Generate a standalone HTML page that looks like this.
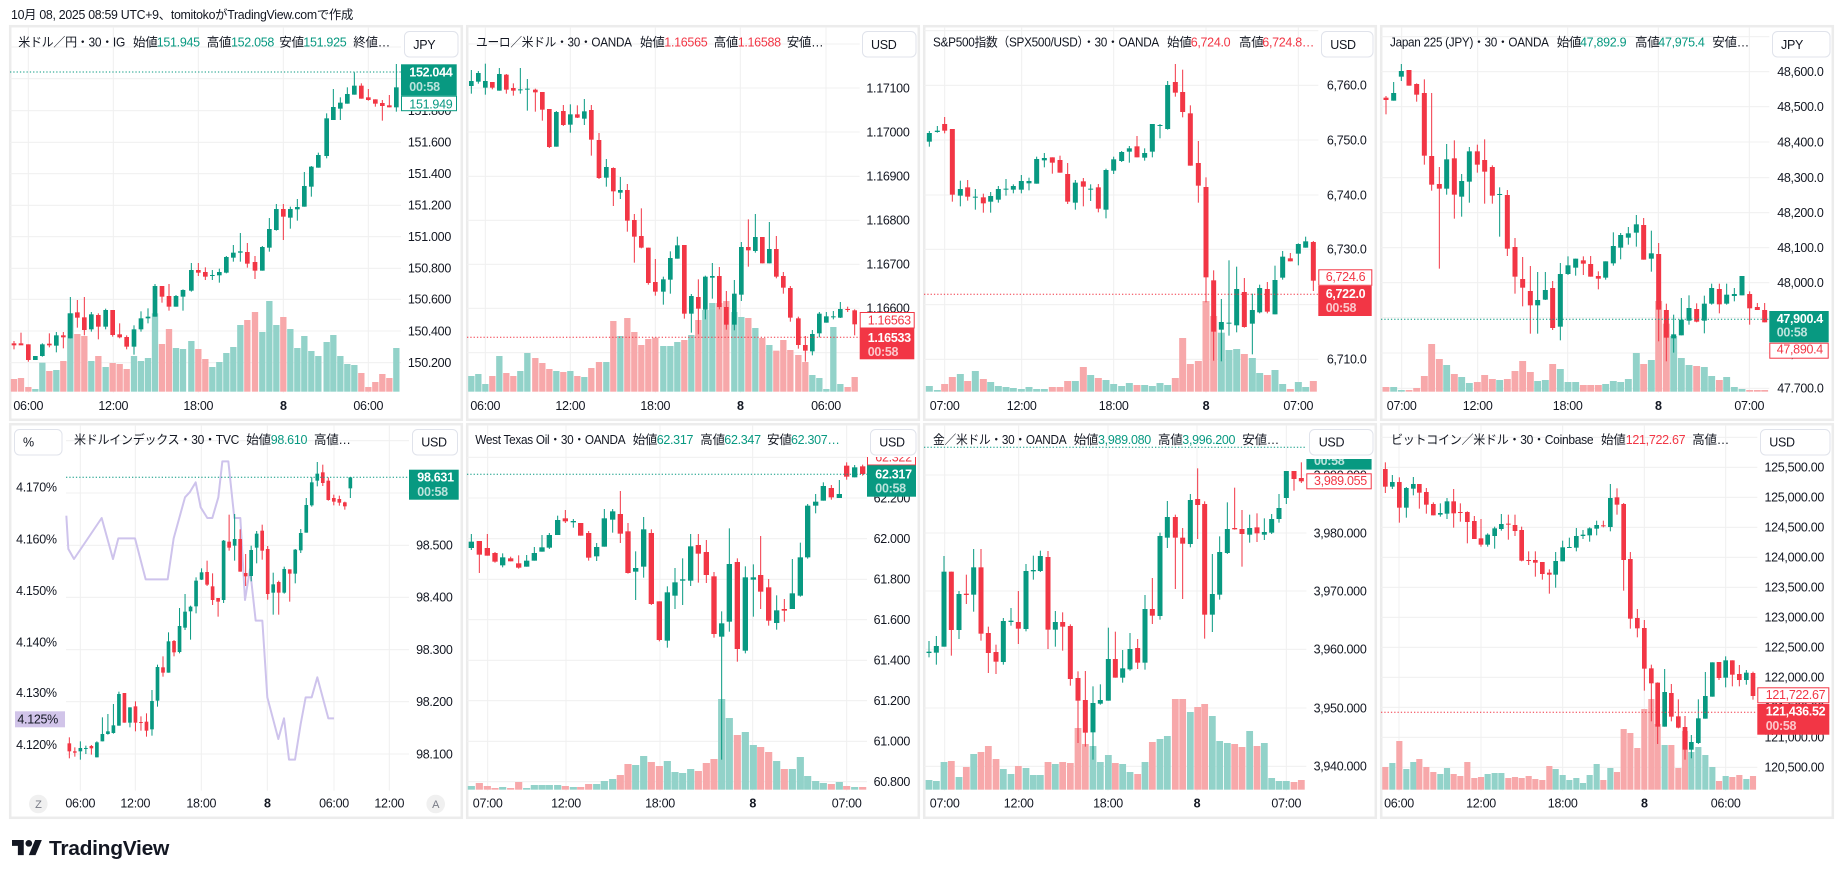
<!DOCTYPE html>
<html><head><meta charset="utf-8">
<style>
html,body{margin:0;padding:0;background:#fff;overflow:hidden;width:1844px;height:878px}
svg{display:block}
text{font-family:"Liberation Sans","Noto Sans CJK JP",sans-serif;font-size:12.5px;letter-spacing:-0.3px;fill:#131722}
.g{fill:#089981}.r{fill:#f23645}
.w{fill:#fff;font-weight:bold}.w2{fill:#fff;fill-opacity:.72;font-weight:bold}
.e{text-anchor:end}.m{text-anchor:middle}
.b{font-weight:bold}
.cb{fill:#fff;stroke:#e0e3eb;stroke-width:1}
</style></head>
<body>
<svg id="s" width="1844" height="878" viewBox="0 0 1844 878" xmlns="http://www.w3.org/2000/svg">
<rect x="0" y="0" width="1844" height="878" fill="#fff"/>
<!-- panel frames -->
<g fill="#fff" stroke="#ececec" stroke-width="2.5">
<rect x="10.2" y="26.2" width="451.6" height="393.6"/>
<rect x="467.2" y="26.2" width="451.6" height="393.6"/>
<rect x="924.2" y="26.2" width="451.6" height="393.6"/>
<rect x="1381.2" y="26.2" width="451.6" height="393.6"/>
<rect x="10.2" y="424.2" width="451.6" height="393.6"/>
<rect x="467.2" y="424.2" width="451.6" height="393.6"/>
<rect x="924.2" y="424.2" width="451.6" height="393.6"/>
<rect x="1381.2" y="424.2" width="451.6" height="393.6"/>
</g>

<g id="charts"></g>

<!-- caption -->
<text x="11" y="19" style="font-size:12.5px" textLength="342" lengthAdjust="spacingAndGlyphs">10月 08, 2025 08:59 UTC+9、tomitokoがTradingView.comで作成</text>

<!-- dotted price lines -->
<g stroke-width="1" stroke-dasharray="1.3 2" fill="none">
<line x1="10" y1="72" x2="401" y2="72" stroke="#089981"/>
<line x1="467" y1="337.3" x2="860" y2="337.3" stroke="#f23645"/>
<line x1="924" y1="294.3" x2="1318" y2="294.3" stroke="#f23645"/>
<line x1="1381" y1="319.3" x2="1769" y2="319.3" stroke="#089981"/>
<line x1="66" y1="477.3" x2="409" y2="477.3" stroke="#089981"/>
<line x1="467" y1="474.3" x2="867" y2="474.3" stroke="#089981"/>
<line x1="924" y1="447.3" x2="1305" y2="447.3" stroke="#089981"/>
<line x1="1381" y1="712.3" x2="1757" y2="712.3" stroke="#f23645"/>
</g>

<!-- ===== Panel 1 ===== -->
<text x="18.3" y="46.5" textLength="106.7" lengthAdjust="spacingAndGlyphs">米ドル／円・30・IG</text>
<text x="133" y="46.5">始値</text><text x="156.7" y="46.5" class="g">151.945</text>
<text x="206.7" y="46.5">高値</text><text x="231" y="46.5" class="g">152.058</text>
<text x="279.3" y="46.5">安値</text><text x="303.3" y="46.5" class="g">151.925</text>
<text x="353.3" y="46.5">終値…</text>
<g class="e">
<text x="451" y="83" class="e">152.000</text>
<text x="451" y="115" class="e">151.800</text>
<text x="451" y="146.6" class="e">151.600</text>
<text x="451" y="178" class="e">151.400</text>
<text x="451" y="209.6" class="e">151.200</text>
<text x="451" y="241" class="e">151.000</text>
<text x="451" y="272.6" class="e">150.800</text>
<text x="451" y="303.6" class="e">150.600</text>
<text x="451" y="335.3" class="e">150.400</text>
<text x="451" y="367" class="e">150.200</text>
</g>
<text x="28.3" y="409.8" class="m">06:00</text>
<text x="113.3" y="409.8" class="m">12:00</text>
<text x="198.3" y="409.8" class="m">18:00</text>
<text x="283.3" y="409.8" class="m b">8</text>
<text x="368.3" y="409.8" class="m">06:00</text>
<rect x="404.5" y="31.5" width="53.5" height="25.5" rx="5" class="cb"/>
<text x="413.3" y="49">JPY</text>
<rect x="401" y="64.3" width="55.7" height="31.4" fill="#089981"/>
<text x="409.3" y="76.6" class="w">152.044</text>
<text x="409.3" y="91" class="w2">00:58</text>
<rect x="401.5" y="96.2" width="55" height="14.5" fill="#fff" stroke="#089981"/>
<text x="409.3" y="108.3" class="g">151.949</text>

<!-- ===== Panel 2 ===== -->
<text x="476" y="46.5" textLength="155.7" lengthAdjust="spacingAndGlyphs">ユーロ／米ドル・30・OANDA</text>
<text x="640" y="46.5">始値</text><text x="664.3" y="46.5" class="r">1.16565</text>
<text x="713.7" y="46.5">高値</text><text x="737.7" y="46.5" class="r">1.16588</text>
<text x="786.7" y="46.5">安値…</text>
<text x="909.5" y="92.3" class="e">1.17100</text>
<text x="909.5" y="136.3" class="e">1.17000</text>
<text x="909.5" y="180.6" class="e">1.16900</text>
<text x="909.5" y="224.6" class="e">1.16800</text>
<text x="909.5" y="268.6" class="e">1.16700</text>
<text x="909.5" y="312.6" class="e">1.16600</text>
<text x="909.5" y="357" class="e">1.16500</text>
<text x="485.3" y="409.8" class="m">06:00</text>
<text x="570.3" y="409.8" class="m">12:00</text>
<text x="655.3" y="409.8" class="m">18:00</text>
<text x="740.3" y="409.8" class="m b">8</text>
<text x="826" y="409.8" class="m">06:00</text>
<rect x="862.5" y="31.5" width="53.5" height="25.5" rx="5" class="cb"/>
<text x="871" y="49">USD</text>
<rect x="860.2" y="312.5" width="54" height="15.5" fill="#fff" stroke="#f23645"/>
<text x="867.7" y="324.6" class="r">1.16563</text>
<rect x="859.7" y="328.3" width="54.6" height="31" fill="#f23645"/>
<text x="867.7" y="342" class="w">1.16533</text>
<text x="867.7" y="356" class="w2">00:58</text>

<!-- ===== Panel 3 ===== -->
<text x="933" y="46.5" textLength="226" lengthAdjust="spacingAndGlyphs">S&amp;P500指数（SPX500/USD）・30・OANDA</text>
<text x="1167" y="46.5">始値</text><text x="1190.7" y="46.5" class="r">6,724.0</text>
<text x="1239" y="46.5">高値</text><text x="1262.3" y="46.5" class="r">6,724.8…</text>
<text x="1366.5" y="89.6" class="e">6,760.0</text>
<text x="1366.5" y="144.3" class="e">6,750.0</text>
<text x="1366.5" y="199.3" class="e">6,740.0</text>
<text x="1366.5" y="253.6" class="e">6,730.0</text>
<text x="1366.5" y="309" class="e">6,720.0</text>
<text x="1366.5" y="363.6" class="e">6,710.0</text>
<text x="944.7" y="409.8" class="m">07:00</text>
<text x="1021.7" y="409.8" class="m">12:00</text>
<text x="1113.7" y="409.8" class="m">18:00</text>
<text x="1206" y="409.8" class="m b">8</text>
<text x="1298.3" y="409.8" class="m">07:00</text>
<rect x="1321.5" y="31.5" width="51.5" height="25.5" rx="5" class="cb"/>
<text x="1330.3" y="49">USD</text>
<rect x="1318.8" y="269.8" width="53" height="15.5" fill="#fff" stroke="#f23645"/>
<text x="1325.7" y="281" class="r">6,724.6</text>
<rect x="1318.3" y="286" width="53.4" height="30" fill="#f23645"/>
<text x="1325.7" y="298" class="w">6,722.0</text>
<text x="1325.7" y="312" class="w2">00:58</text>

<!-- ===== Panel 4 ===== -->
<text x="1390" y="46.5" textLength="158.7" lengthAdjust="spacingAndGlyphs">Japan 225 (JPY)・30・OANDA</text>
<text x="1556.7" y="46.5">始値</text><text x="1580" y="46.5" class="g">47,892.9</text>
<text x="1635" y="46.5">高値</text><text x="1658.3" y="46.5" class="g">47,975.4</text>
<text x="1712.3" y="46.5">安値…</text>
<text x="1823.5" y="76" class="e">48,600.0</text>
<text x="1823.5" y="111" class="e">48,500.0</text>
<text x="1823.5" y="146.3" class="e">48,400.0</text>
<text x="1823.5" y="182" class="e">48,300.0</text>
<text x="1823.5" y="217" class="e">48,200.0</text>
<text x="1823.5" y="252" class="e">48,100.0</text>
<text x="1823.5" y="287" class="e">48,000.0</text>
<text x="1823.5" y="322" class="e">47,900.0</text>
<text x="1823.5" y="357.3" class="e">47,800.0</text>
<text x="1823.5" y="392.6" class="e">47,700.0</text>
<rect x="1769" y="392.5" width="62" height="6" fill="#fff"/>
<text x="1401.7" y="409.8" class="m">07:00</text>
<text x="1477.7" y="409.8" class="m">12:00</text>
<text x="1567.7" y="409.8" class="m">18:00</text>
<text x="1658.3" y="409.8" class="m b">8</text>
<text x="1749.3" y="409.8" class="m">07:00</text>
<rect x="1772.5" y="31.5" width="57.5" height="25.5" rx="5" class="cb"/>
<text x="1781" y="49">JPY</text>
<rect x="1769.3" y="311" width="59.4" height="31.3" fill="#089981"/>
<text x="1776.7" y="323" class="w">47,900.4</text>
<text x="1776.7" y="336.3" class="w2">00:58</text>
<rect x="1769.8" y="343.2" width="58.4" height="15" fill="#fff" stroke="#f23645"/>
<text x="1776.7" y="353.6" class="r">47,890.4</text>

<!-- ===== Panel 5 ===== -->
<text x="74" y="444" textLength="165" lengthAdjust="spacingAndGlyphs">米ドルインデックス・30・TVC</text>
<text x="246.3" y="444">始値</text><text x="270.7" y="444" class="g">98.610</text>
<text x="314" y="444">高値…</text>
<text x="452.5" y="497.3" class="e">98.600</text>
<text x="452.5" y="549.6" class="e">98.500</text>
<text x="452.5" y="601.6" class="e">98.400</text>
<text x="452.5" y="654" class="e">98.300</text>
<text x="452.5" y="706" class="e">98.200</text>
<text x="452.5" y="758.3" class="e">98.100</text>
<text x="56.7" y="491.6" class="e">4.170%</text>
<text x="56.7" y="543.3" class="e">4.160%</text>
<text x="56.7" y="595" class="e">4.150%</text>
<text x="56.7" y="646.3" class="e">4.140%</text>
<text x="56.7" y="697" class="e">4.130%</text>
<text x="56.7" y="749" class="e">4.120%</text>
<rect x="15" y="711.3" width="50" height="16" fill="#d1c4e9"/>
<text x="58" y="723.6" class="e">4.125%</text>
<text x="80.3" y="807.6" class="m">06:00</text>
<text x="135.3" y="807.6" class="m">12:00</text>
<text x="201.3" y="807.6" class="m">18:00</text>
<text x="267.3" y="807.6" class="m b">8</text>
<text x="334" y="807.6" class="m">06:00</text>
<text x="389.3" y="807.6" class="m">12:00</text>
<circle cx="38.3" cy="804" r="9.3" fill="#f0f0f0"/>
<text x="38.3" y="808" class="m" style="font-size:11px;fill:#787b86">Z</text>
<circle cx="435.7" cy="804" r="9.3" fill="#f0f0f0"/>
<text x="435.7" y="808" class="m" style="font-size:11px;fill:#787b86">A</text>
<rect x="14.5" y="429.5" width="47.5" height="25.5" rx="5" class="cb"/>
<text x="23" y="446.6">%</text>
<rect x="412.5" y="429.5" width="45" height="25.5" rx="5" class="cb"/>
<text x="421.3" y="446.6">USD</text>
<rect x="409" y="469.7" width="49.7" height="30" fill="#089981"/>
<text x="417.3" y="481.6" class="w">98.631</text>
<text x="417.3" y="496" class="w2">00:58</text>

<!-- ===== Panel 6 ===== -->
<text x="475.3" y="444" textLength="150" lengthAdjust="spacingAndGlyphs">West Texas Oil・30・OANDA</text>
<text x="632.7" y="444">始値</text><text x="656.7" y="444" class="g">62.317</text>
<text x="700.3" y="444">高値</text><text x="724.3" y="444" class="g">62.347</text>
<text x="767" y="444">安値</text><text x="791" y="444" class="g">62.307…</text>
<text x="910" y="502.3" class="e">62.200</text>
<text x="910" y="543" class="e">62.000</text>
<text x="910" y="583.6" class="e">61.800</text>
<text x="910" y="624" class="e">61.600</text>
<text x="910" y="664.6" class="e">61.400</text>
<text x="910" y="705" class="e">61.200</text>
<text x="910" y="745.6" class="e">61.000</text>
<text x="910" y="786" class="e">60.800</text>
<text x="487.7" y="807.6" class="m">07:00</text>
<text x="566" y="807.6" class="m">12:00</text>
<text x="660" y="807.6" class="m">18:00</text>
<text x="752.7" y="807.6" class="m b">8</text>
<text x="846.7" y="807.6" class="m">07:00</text>
<rect x="870.5" y="429.5" width="45.5" height="25.5" rx="5" class="cb"/>
<text x="879.3" y="446.6">USD</text>
<svg x="867" y="457" width="49" height="8.5" overflow="hidden">
<rect x="0.5" y="-9" width="48" height="17" fill="#fff" stroke="#f23645"/>
<text x="8.3" y="4.6" class="r">62.322</text>
</svg>
<rect x="867" y="465.3" width="49" height="31.4" fill="#089981"/>
<text x="875.3" y="478.6" class="w">62.317</text>
<text x="875.3" y="492.3" class="w2">00:58</text>

<!-- ===== Panel 7 ===== -->
<text x="933" y="444" textLength="133.3" lengthAdjust="spacingAndGlyphs">金／米ドル・30・OANDA</text>
<text x="1073.7" y="444">始値</text><text x="1098" y="444" class="g">3,989.080</text>
<text x="1158" y="444">高値</text><text x="1182.3" y="444" class="g">3,996.200</text>
<text x="1242.3" y="444">安値…</text>
<text x="1366.5" y="479.3" class="e">3,990.000</text>
<text x="1366.5" y="537.3" class="e">3,980.000</text>
<text x="1366.5" y="595.3" class="e">3,970.000</text>
<text x="1366.5" y="653.6" class="e">3,960.000</text>
<text x="1366.5" y="712.3" class="e">3,950.000</text>
<text x="1366.5" y="770.6" class="e">3,940.000</text>
<text x="944.7" y="807.6" class="m">07:00</text>
<text x="1018.7" y="807.6" class="m">12:00</text>
<text x="1108" y="807.6" class="m">18:00</text>
<text x="1197" y="807.6" class="m b">8</text>
<text x="1286.3" y="807.6" class="m">07:00</text>
<rect x="1309.5" y="429.5" width="63.5" height="25.5" rx="5" class="cb"/>
<text x="1318.7" y="446.6">USD</text>
<svg x="1306.3" y="459" width="65.4" height="10.7" overflow="hidden">
<rect x="0" y="0" width="65.4" height="10.7" fill="#089981"/>
<text x="7.7" y="6" class="w2">00:58</text>
</svg>
<rect x="1306.8" y="473.8" width="64.4" height="15" fill="#fff" stroke="#f23645"/>
<text x="1314" y="485" class="r">3,989.055</text>

<!-- ===== Panel 8 ===== -->
<text x="1391" y="444" textLength="202.3" lengthAdjust="spacingAndGlyphs">ビットコイン／米ドル・30・Coinbase</text>
<text x="1601" y="444">始値</text><text x="1625.7" y="444" class="r">121,722.67</text>
<text x="1692.3" y="444">高値…</text>
<text x="1824" y="471.6" class="e">125,500.00</text>
<text x="1824" y="501.6" class="e">125,000.00</text>
<text x="1824" y="531.6" class="e">124,500.00</text>
<text x="1824" y="561.6" class="e">124,000.00</text>
<text x="1824" y="591.6" class="e">123,500.00</text>
<text x="1824" y="621.6" class="e">123,000.00</text>
<text x="1824" y="651.6" class="e">122,500.00</text>
<text x="1824" y="681.6" class="e">122,000.00</text>
<text x="1824" y="711.6" class="e">121,500.00</text>
<text x="1824" y="741.6" class="e">121,000.00</text>
<text x="1824" y="771.6" class="e">120,500.00</text>
<text x="1399" y="807.6" class="m">06:00</text>
<text x="1481" y="807.6" class="m">12:00</text>
<text x="1562.7" y="807.6" class="m">18:00</text>
<text x="1644.3" y="807.6" class="m b">8</text>
<text x="1725.7" y="807.6" class="m">06:00</text>
<rect x="1760.5" y="429.5" width="69.5" height="25.5" rx="5" class="cb"/>
<text x="1769.3" y="446.6">USD</text>
<rect x="1757.8" y="687.8" width="71" height="15" fill="#fff" stroke="#f23645"/>
<text x="1765.7" y="699" class="r">121,722.67</text>
<rect x="1757.3" y="704" width="72" height="30.7" fill="#f23645"/>
<text x="1765.7" y="715.6" class="w">121,436.52</text>
<text x="1765.7" y="730" class="w2">00:58</text>

<!-- logo -->
<g transform="translate(12 836.6) scale(0.84)" fill="#131722">
<path d="M14 22H7V11H0V4h14v18z"/>
<circle cx="20" cy="8" r="4"/>
<path d="M28 22h-8l7.5-18h8z"/>
</g>
<text x="49" y="855" style="font-size:20.5px;font-weight:bold" textLength="120" lengthAdjust="spacingAndGlyphs">TradingView</text>
</svg>

<script>
var P=[
{ox:9,oy:60,bw:14,vw:19,vb:995,gx0:3,gx1:1176,gy0:-99,gy1:998,
 hg:[-39,56,152,247,341,436,530,625,718,813,908],vg:[58,313,568,823,1078],
 c:[[15,850,856,843,868,0],[36,850,856,818,853,0],[58,853,900,853,905,0],[79,888,900,888,900,1],[100,853,888,850,890,1],[121,851,856,820,862,0],[142,826,857,816,877,1],[163,826,832,816,865,0],[184,760,835,711,835,1],[205,757,773,720,803,0],[226,772,810,711,826,0],[247,763,808,756,815,1],[268,765,800,760,838,0],[290,750,800,746,808,1],[311,750,825,750,830,0],[332,823,832,790,835,0],[353,831,860,826,868,0],[375,808,860,796,884,1],[396,775,808,754,815,1],[417,770,775,745,790,1],[438,678,770,672,770,1],[459,678,710,678,728,0],[480,708,740,672,752,0],[501,708,740,705,740,1],[522,690,710,688,752,1],[547,630,692,609,695,1],[568,630,638,609,648,0],[589,636,650,622,660,0],[610,645,648,630,660,1],[631,636,646,626,668,1],[652,591,638,588,640,1],[673,578,593,555,605,1],[694,574,578,519,605,1],[715,576,611,549,623,0],[738,606,632,588,657,0],[760,561,632,558,632,1],[781,507,563,474,575,1],[802,447,510,432,512,1],[823,447,470,432,540,0],[844,447,473,440,506,1],[865,441,448,417,482,1],[886,378,440,336,440,1],[907,320,380,318,410,1],[928,285,323,278,323,1],[953,175,288,160,295,1],[973,141,180,87,180,1],[994,128,146,112,180,1],[1015,102,131,82,131,1],[1036,77,104,37,104,1],[1057,77,116,70,116,0],[1078,112,120,87,122,0],[1099,118,131,118,140,0],[1120,129,138,120,182,0],[1141,136,142,105,142,0],[1162,82,142,12,155,1]],
 v:[957,954,981,987,908,933,930,903,760,822,828,903,888,921,909,912,927,888,903,894,760,852,807,864,867,843,867,897,921,906,879,861,795,780,756,816,723,795,771,807,864,828,873,888,846,825,888,912,915,939,981,966,942,954,864]},
{ox:466,oy:26,bw:14,vw:19,vb:1097,gx0:3,gx1:1181,gy0:3,gy1:1100,
 hg:[54,186,318,451,583,715,847,980],vg:[58,313,568,823,1080],
 c:[[16,165,180,132,203,1],[37,141,167,135,173,1],[58,165,185,113,206,1],[79,168,185,168,190,0],[100,144,194,126,194,1],[121,146,191,144,203,0],[142,186,194,172,209,0],[163,190,193,126,203,1],[184,188,191,159,254,1],[208,191,199,188,257,0],[229,198,251,198,284,0],[250,249,363,249,366,0],[271,258,362,255,362,1],[292,255,297,237,300,0],[313,265,296,235,320,1],[334,265,275,238,276,0],[355,256,278,219,297,1],[376,252,341,237,389,0],[399,342,456,321,459,0],[421,423,455,399,482,1],[442,426,496,424,540,0],[463,492,500,453,519,1],[484,492,584,474,617,0],[505,582,632,564,710,0],[526,630,665,547,667,0],[547,665,771,665,776,0],[568,768,797,699,809,0],[592,760,797,752,836,1],[613,696,761,676,803,1],[634,658,698,632,698,1],[655,657,863,657,878,0],[676,810,863,804,920,1],[697,813,848,760,925,0],[718,752,851,749,880,1],[739,750,755,711,818,1],[760,750,843,723,850,0],[781,843,896,795,911,0],[805,803,896,762,913,1],[826,663,806,648,825,1],[847,663,673,580,722,0],[868,633,675,564,680,1],[889,633,712,633,712,0],[910,669,712,588,712,1],[931,669,752,630,757,0],[952,750,785,738,803,0],[973,786,875,780,887,0],[997,877,957,872,968,0],[1018,957,974,930,1007,0],[1039,924,976,912,988,1],[1060,863,922,858,934,1],[1081,871,890,858,890,1],[1102,871,874,855,880,1],[1123,849,875,828,876,1],[1145,849,852,842,858,0],[1166,853,895,850,928,0]],
 v:[1050,1044,1074,1050,990,1041,1050,1035,981,996,1011,1029,1035,1038,1035,1050,1053,1026,1008,1008,885,930,876,918,957,939,935,960,960,948,942,927,882,852,831,831,825,858,873,876,906,936,957,974,942,972,987,1008,1047,1056,1089,903,1074,1083,1053]},
{ox:923,oy:26,bw:15,vw:21,vb:1097,gx0:3,gx1:1186,gy0:3,gy1:1100,
 hg:[14,178,342,507,670,836,1000],vg:[65,296,572,849,1126],
 c:[[19,321,347,315,362,1],[43,314,318,300,320,1],[65,294,314,273,322,0],[88,309,506,309,527,0],[112,489,509,464,541,1],[134,484,512,462,524,0],[157,512,515,489,551,1],[181,514,532,503,560,0],[203,510,527,498,560,1],[226,489,521,480,530,1],[249,488,491,459,509,1],[271,480,491,475,502,1],[295,465,491,447,502,1],[318,465,472,455,493,1],[341,399,473,392,473,1],[364,396,403,381,424,1],[388,394,410,394,443,0],[411,402,440,389,440,0],[434,444,527,411,534,0],[457,470,530,462,551,1],[481,466,482,456,541,0],[503,488,491,475,525,1],[526,484,548,474,559,0],[549,432,551,428,577,1],[572,400,434,392,444,1],[596,378,405,375,408,1],[619,367,377,360,410,1],[642,361,394,330,394,0],[665,381,395,367,404,1],[688,294,377,294,394,1],[711,297,300,294,337,1],[734,177,309,165,311,1],[757,168,200,114,212,0],[779,198,258,131,274,0],[802,262,419,238,419,0],[826,411,479,345,530,0],[849,483,754,454,829,0],[872,763,917,733,1004,0],[895,888,911,819,1006,1],[918,890,893,703,929,1],[941,789,898,722,919,1],[964,798,903,756,905,0],[988,852,893,803,985,1],[1010,786,859,776,862,1],[1033,789,857,768,862,0],[1056,762,865,719,865,1],[1079,692,755,675,761,1],[1102,697,706,681,706,0],[1126,654,683,652,718,1],[1148,646,665,632,665,1],[1171,648,764,645,795,0]],
 v:[1080,1092,1074,1053,1044,1065,1035,1059,1068,1080,1083,1086,1089,1083,1089,1089,1083,1083,1065,1065,1023,1047,1056,1062,1074,1080,1071,1077,1077,1080,1071,1077,1056,936,1014,1005,825,870,920,972,969,984,996,1041,1047,1032,1074,1089,1068,1083,1065]},
{ox:1380,oy:26,bw:15,vw:20.7,vb:1097,gx0:3,gx1:1168,gy0:3,gy1:1100,
 hg:[32,137,242,348,455,560,665,770,875,981,1087],vg:[65,293,563,835,1108],
 c:[[18,215,222,210,265,0],[41,201,224,168,224,1],[64,135,152,114,165,1],[87,132,179,132,179,0],[110,174,206,172,227,0],[133,201,389,160,416,0],[155,390,476,201,494,0],[178,474,488,423,728,0],[200,400,488,354,506,1],[223,397,506,343,578,0],[245,465,512,444,572,1],[268,376,467,363,530,1],[292,376,416,356,440,0],[314,402,437,340,533,0],[337,423,509,418,533,0],[359,504,507,484,632,1],[382,507,668,492,690,0],[405,663,752,636,803,0],[428,759,785,693,841,0],[451,795,838,720,923,0],[473,822,838,738,923,1],[496,792,821,738,822,1],[518,786,906,765,912,0],[541,744,902,711,943,1],[564,718,744,691,747,1],[587,698,725,698,749,1],[610,703,713,691,747,0],[632,714,752,690,752,0],[655,750,758,736,790,0],[677,706,755,706,761,1],[700,660,712,619,719,1],[722,627,665,621,700,1],[745,622,635,603,656,1],[769,595,620,567,662,1],[791,597,701,576,701,0],[814,682,698,614,737,1],[836,684,851,651,946,0],[859,852,935,833,1006,0],[881,925,937,866,980,1],[904,881,928,816,928,1],[927,846,884,808,896,1],[950,849,887,832,889,0],[973,833,884,809,922,1],[995,786,833,773,836,1],[1018,789,835,773,862,0],[1040,806,833,773,836,1],[1063,804,810,786,826,1],[1086,750,808,750,808,1],[1109,804,847,796,896,0],[1132,843,852,831,852,0],[1154,852,889,831,889,0]],
 v:[1083,1083,1092,1092,1086,1050,954,999,1017,1044,1053,1071,1068,1047,1059,1062,1059,1035,1005,1038,1065,1062,1014,1029,1068,1068,1077,1077,1077,1074,1065,1068,1059,981,1014,1002,825,893,930,996,1017,1020,1023,1050,1062,1053,1083,1089,1092,1092,1092]},
{ox:9,oy:424,bw:11,vb:1097,gx0:171,gx1:1200,gy0:3,gy1:1100,
 hg:[50,207,364,520,677,833,990],vg:[214,379,577,775,975,1141],
 line:"172,275 178,375 195,405 278,282 312,405 328,343 378,343 410,466 476,466 494,343 528,220 542,205 560,175 575,250 595,282 610,282 628,220 640,112 658,112 676,282 694,282 708,528 723,435 740,590 760,590 775,820 808,945 825,883 840,1007 858,1007 875,900 890,820 908,820 925,760 958,883 975,883",
 c:[[958,982,940,1003,0],[982,986,970,998,0],[972,982,952,1007,1],[972,975,965,990,1],[966,973,963,992,0],[955,1000,952,1000,1],[930,952,880,952,1],[922,930,870,932,1],[904,927,840,929,1],[810,905,803,905,1],[807,896,807,896,0],[850,896,850,910,1],[847,896,832,922,0],[894,897,877,920,0],[893,920,868,938,0],[831,916,798,935,1],[729,830,722,848,1],[730,746,697,758,0],[652,746,625,746,1],[651,685,648,697,0],[606,684,552,688,1],[563,611,510,618,1],[548,562,545,647,1],[470,547,460,568,1],[445,467,433,468,1],[444,482,410,486,0],[487,528,448,543,0],[522,533,522,578,0],[350,528,348,537,1],[353,371,272,380,0],[345,365,270,410,1],[345,443,316,443,0],[447,457,390,486,0],[378,456,365,472,1],[329,371,321,418,1],[320,380,302,407,0],[375,510,366,527,0],[481,506,446,572,1],[474,506,470,572,0],[435,506,428,509,1],[436,449,436,533,0],[377,449,375,478,1],[327,379,315,387,1],[243,326,222,326,1],[175,244,160,248,1],[149,170,114,187,1],[145,177,122,186,0],[170,228,160,230,0],[222,233,212,244,0],[225,236,215,245,0],[235,247,233,257,0],[160,193,160,222,1]].map(function(a,i){return [181+16.53*i].concat(a);})},
{ox:466,oy:424,bw:16,vw:21.5,vb:1097,gx0:3,gx1:1203,gy0:3,gy1:1100,
 hg:[100,222,344,466,587,709,830,952,1073],vg:[65,300,582,860,1142],
 c:[[16,353,372,330,378,1],[40,351,392,351,447,0],[64,372,395,330,395,0],[87,387,413,384,416,0],[110,400,424,388,430,1],[134,403,412,398,412,0],[158,418,431,394,434,0],[182,410,428,393,428,1],[205,387,410,369,410,1],[228,370,383,333,383,1],[250,333,371,327,375,1],[275,288,333,275,333,1],[298,283,292,258,297,0],[322,291,295,285,311,1],[344,297,335,297,335,0],[368,327,401,321,410,0],[392,369,397,357,411,1],[415,283,368,255,368,1],[440,262,287,255,326,1],[463,270,329,201,357,0],[486,322,447,297,449,0],[509,432,443,382,528,1],[533,316,428,279,461,1],[556,327,540,316,543,0],[580,532,648,532,652,0],[604,505,650,487,671,1],[627,475,515,432,555,1],[650,466,470,403,543,1],[674,367,470,330,486,1],[697,363,389,330,476,0],[721,384,453,348,477,0],[744,457,630,444,641,0],[767,598,638,562,1007,1],[790,420,593,313,623,1],[814,414,675,403,713,0],[838,460,680,427,688,1],[862,460,467,421,578,1],[884,453,503,336,555,0],[908,490,590,465,605,0],[932,559,597,514,617,1],[955,555,560,525,593,0],[979,508,555,405,555,1],[1003,400,515,356,518,1],[1025,245,400,240,404,1],[1049,233,245,210,268,1],[1072,186,230,175,230,1],[1096,192,220,183,227,0],[1120,210,222,168,222,1],[1142,125,158,115,167,0],[1166,130,160,123,160,1],[1190,127,150,122,155,0]],
 v:[1086,1077,1086,1092,1089,1092,1074,1092,1083,1083,1083,1083,1086,1089,1089,1080,1080,1071,1065,1053,1020,1023,996,1014,1026,1011,1044,1047,1035,1041,1017,1005,825,882,933,924,963,969,984,1011,1035,1035,999,1056,1071,1077,1080,1074,1086,1089,1089]},
{ox:923,oy:424,bw:15,vw:20.3,vb:1097,gx0:3,gx1:1150,gy0:3,gy1:1100,
 hg:[153,327,501,676,852,1027],vg:[65,287,555,822,1090],
 c:[[18,683,687,651,700,1],[40,666,686,636,722,1],[63,443,668,396,668,1],[85,443,618,443,695,0],[108,510,618,501,645,1],[130,509,513,452,540,0],[152,430,512,375,563,1],[174,430,629,375,650,0],[196,627,687,608,747,0],[219,684,713,662,750,0],[241,591,714,582,722,1],[264,590,594,552,605,1],[286,594,614,501,660,0],[309,441,615,420,622,1],[331,438,442,395,467,1],[352,396,441,380,444,1],[375,399,617,381,675,0],[397,594,617,561,668,1],[419,594,608,565,680,0],[442,606,765,601,785,0],[465,762,830,742,957,0],[487,828,926,741,968,0],[510,837,925,787,1007,1],[532,828,839,781,842,1],[556,705,830,611,830,1],[577,705,761,623,761,0],[599,733,761,678,776,1],[621,675,736,627,740,1],[644,672,716,645,735,0],[666,555,716,513,737,1],[688,555,575,462,600,0],[711,336,576,326,587,1],[733,279,341,231,372,1],[757,279,341,272,495,0],[779,341,359,312,525,0],[802,228,360,210,370,1],[824,225,243,133,345,0],[845,240,572,232,644,0],[868,510,572,390,624,1],[890,384,512,337,527,1],[913,315,387,235,390,1],[935,312,316,191,317,0],[957,315,330,258,428,0],[980,312,332,272,356,1],[1002,310,328,268,354,0],[1024,324,332,283,348,1],[1046,285,326,270,330,1],[1068,252,285,210,296,1],[1090,141,222,141,240,1],[1113,141,165,141,200,0],[1135,162,172,115,177,0]],
 v:[1068,1071,1014,1011,1059,1029,990,984,966,1005,1035,1050,1026,1032,1053,1053,1014,1020,1014,1017,912,960,966,1014,993,1017,1020,1044,1050,1014,954,945,936,825,825,864,849,840,876,951,957,960,969,921,966,957,1062,1071,1071,1074,1068]},
{ox:1380,oy:424,bw:14,vw:18.4,vb:1097,gx0:3,gx1:1132,gy0:3,gy1:1100,
 hg:[40,130,220,310,400,490,580,670,760,850,940,1030],vg:[57,303,548,793,1037],
 c:[[16,135,188,115,207,0],[37,174,188,153,195,1],[58,174,251,160,296,0],[79,192,251,189,281,1],[100,180,194,159,214,1],[118,180,206,180,254,0],[139,204,242,192,269,0],[160,240,274,235,274,0],[181,267,272,238,278,1],[201,232,269,222,285,1],[221,232,268,195,311,0],[241,264,267,238,293,0],[262,264,294,262,358,0],[283,291,345,276,345,0],[303,343,362,285,368,0],[323,332,362,328,368,1],[344,313,336,308,374,1],[364,300,315,270,320,1],[385,299,302,272,347,0],[405,303,321,272,336,0],[425,318,410,308,412,0],[446,408,411,382,423,0],[466,408,416,382,458,0],[487,414,450,414,467,0],[508,446,452,436,509,0],[527,411,452,384,491,1],[548,370,412,350,412,1],[568,369,372,341,372,1],[589,336,371,312,382,1],[609,332,336,318,345,1],[629,313,334,310,353,1],[650,303,314,290,334,1],[670,304,307,290,310,0],[691,222,309,180,322,1],[711,220,242,193,272,0],[731,240,408,237,500,0],[751,405,584,384,614,0],[772,582,613,555,640,0],[793,612,734,588,800,0],[814,733,778,722,892,0],[833,776,908,775,960,0],[854,804,908,735,908,1],[874,807,878,780,892,0],[895,877,911,826,913,0],[915,909,977,876,1007,0],[934,954,977,933,1003,1],[955,883,957,826,960,1],[976,816,884,744,884,1],[997,715,818,715,818,1],[1017,714,762,714,768,0],[1037,709,761,697,790,1],[1057,709,752,709,787,0],[1078,750,768,723,787,0],[1099,746,768,738,782,1],[1119,747,816,743,827,0]],
 v:[1029,1017,951,1035,1014,1005,1029,1044,1050,1032,1050,1056,1014,1062,1059,1050,1047,1047,1062,1059,1062,1056,1065,1068,1026,1035,1053,1068,1062,1077,1053,1020,1068,1032,1044,915,927,972,855,825,900,963,963,1032,921,984,969,993,1029,1071,1056,1059,1053,1065,1056]}
];
(function(){
var NS='http://www.w3.org/2000/svg',root=document.getElementById('charts');
function E(t,a,p){var e=document.createElementNS(NS,t);for(var k in a)e.setAttribute(k,a[k]);p.appendChild(e);return e;}
var G='#089981',R='#f23645',VG='#92d2c9',VR='#f7a8aa',GR='#f0f0f0';
P.forEach(function(o){
 var g=E('g',{transform:'translate('+o.ox+' '+o.oy+') scale(0.3333333)'},root);
 o.hg.forEach(function(y){E('rect',{x:o.gx0,y:y-1.5,width:o.gx1-o.gx0,height:3,fill:GR},g);});
 o.vg.forEach(function(x){E('rect',{x:x-1.5,y:o.gy0,width:3,height:o.gy1-o.gy0,fill:GR},g);});
 if(o.v){o.c.forEach(function(c,i){var t=o.v[i];E('rect',{x:c[0]-o.vw/2,y:t,width:o.vw,height:o.vb-t,fill:c[5]?VG:VR},g);});}
 if(o.line){E('polyline',{points:o.line,fill:'none',stroke:'#cec3ec','stroke-width':6,'stroke-linejoin':'round'},g);}
 o.c.forEach(function(c){var col=c[5]?G:R;
  E('rect',{x:c[0]-1.5,y:c[3],width:3,height:Math.max(c[4]-c[3],3),fill:col},g);
  E('rect',{x:c[0]-o.bw/2,y:c[1],width:o.bw,height:Math.max(c[2]-c[1],3),fill:col},g);});
});
})();
</script>
</body></html>
